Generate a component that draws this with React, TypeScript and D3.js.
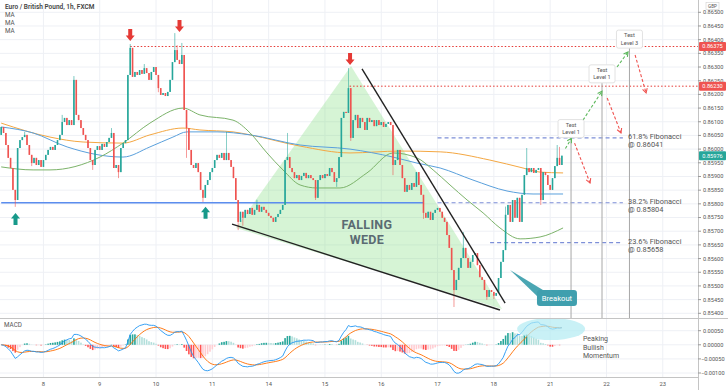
import React from 'react';
import * as d3 from 'd3';

// EUR/GBP 1h closes, in points over 0.85000 (1 pt = 0.00001)
const firstOpen = 1052;
const closes = [
  1081, 1059, 1015, 968, 931, 851, 814, 1004, 1033, 1044,
  1052, 1015, 979, 949, 968, 942, 960, 935, 960, 979,
  997, 1008, 997, 1015, 1033, 1052, 1099, 1114, 1088, 1106,
  1088, 1253, 1125, 1106, 1077, 1052, 1033, 1004, 960, 942,
  997, 1011, 997, 1019, 1008, 1026, 1041, 1059, 931, 942,
  916, 1004, 1022, 1033, 1271, 1370, 1264, 1282, 1271, 1289,
  1275, 1296, 1278, 1253, 1282, 1300, 1271, 1223, 1198, 1205,
  1194, 1209, 1253, 1318, 1362, 1326, 1311, 1344, 1143, 1077,
  997, 942, 931, 949, 916, 851, 822, 869, 887, 916,
  931, 960, 979, 968, 986, 960, 986, 960, 935, 894,
  814, 734, 771, 749, 778, 763, 785, 760, 778, 796,
  771, 789, 778, 767, 756, 749, 734, 752, 763, 778,
  796, 960, 971, 931, 916, 894, 905, 887, 902, 913,
  894, 905, 894, 887, 822, 887, 905, 894, 909, 902,
  931, 916, 880, 894, 971, 1114, 1136, 1132, 1223, 1041,
  1106, 1125, 1077, 1114, 1099, 1070, 1114, 1099, 1106, 1084,
  1106, 1088, 1099, 1081, 1092, 1099, 1088, 942, 960, 997,
  942, 894, 844, 869, 851, 876, 862, 916, 869, 833,
  767, 749, 771, 741, 767, 778, 785, 771, 749, 734,
  686, 639, 558, 485, 522, 566, 602, 639, 602, 566,
  588, 613, 620, 576, 532, 522, 485, 460, 485, 478,
  464, 474, 529, 588, 631, 760, 796, 734, 814, 749,
  822, 734, 833, 905, 931, 916, 931, 913, 924, 931,
  814, 916, 905, 869, 851, 894, 938, 968, 942, 976,
];

// visible wicks: [bar, high, low]
const wicks: [number, number | null, number | null][] = [
  [6, null, 789], [10, 1063, null], [13, null, 938], [26, 1125, null], [31, 1267, null],
  [39, null, 924], [47, 1077, null], [50, null, 894], [55, 1384, null], [61, 1311, null],
  [67, null, 1208], [74, 1424, null], [75, 1380, null], [77, 1388, null], [79, null, 968],
  [86, null, 807], [96, 1063, null], [101, null, 704], [103, null, 720], [109, 815, null],
  [122, 1059, null], [134, null, 814], [143, null, 862], [148, 1296, null], [149, null, 1030],
  [167, null, 905], [180, null, 745], [193, null, 423], [197, 697, null], [207, null, 449],
  [210, null, 452], [215, 790, null], [224, 1004, null], [230, null, 796], [237, 1015, null],
  [238, 1008, null],
];

// moving averages: [bar, points]
const maGreen = [
  [0, 935], [13.6, 924], [20.8, 924], [42.1, 971], [51.9, 1022], [63.4, 1095], [77.5, 1150],
  [84.7, 1125], [98.8, 1106], [106.1, 1059], [113.3, 986], [120.1, 924], [127.4, 869],
  [134.6, 858], [144.4, 858], [155.9, 913], [167, 986], [177.2, 968], [184.1, 924],
  [191.3, 869], [198.6, 814], [205.4, 767], [212.6, 712], [221.2, 672], [229.7, 679], [239.5, 712],
];
const maOrange = [
  [0, 1095], [20.8, 1044], [34.9, 1026], [51.9, 1022], [63.4, 1052], [77.5, 1077], [84.7, 1070],
  [98.8, 1063], [106.1, 1052], [127.4, 1011], [148.7, 986], [170, 993], [187.1, 990],
  [208.3, 960], [222.4, 931], [229.7, 916], [239.5, 913],
];
const maBlue = [
  [0, 1081], [13.6, 1059], [28.1, 1008], [51.9, 971], [63.4, 1008], [73.2, 1044], [79.2, 1063],
  [92, 1063], [106.1, 1052], [127.4, 1015], [148.7, 1000], [167, 971], [177.2, 949],
  [187.1, 931], [201.1, 887], [215.6, 847], [226.7, 836], [239.5, 836],
];

const dayBars = [18, 42, 66, 90, 114, 138, 162, 186, 210, 234, 258, 282];
const dayLabels = ['8', '9', '10', '11', '14', '15', '16', '17', '18', '21', '22', '23'];
const macdTicks = [0.0005, 0, -0.0005, -0.001];

const supportLevel = 0.85804;
const resistanceLevels = [[55, 0.86375], [148.5, 0.8623]];
const fibs = [
  { pct: '61.8%', price: 0.86041, from: 186 },
  { pct: '38.2%', price: 0.85804, from: 186 },
  { pct: '23.6%', price: 0.85658, from: 208.4 },
];
const wedgeLower = [[98.4, 726], [212.6, 412]];
const wedgeUpper = [[153.8, 1293], [214.8, 437]];
const wedgeFill = [[100.1, 712], [149.1, 1304], [213.5, 416]];
const redMarks = [[55, 1395], [76, 1428], [148.7, 1307]];
const greenMarks = [[6.1, 767], [87.1, 789]];
const testBoxes = [
  { bar: 242.9, v: 1075, label: 'Level 1' },
  { bar: 256.1, v: 1275, label: 'Level 1' },
  { bar: 267.8, v: 1402, label: 'Level 3' },
];
const upArrows = [[[240.5, 1002], [243.1, 1040]], [[248, 1106], [256.1, 1212]], [[262.5, 1300], [267.2, 1355]]];
const downArrows = [[[244.4, 1022], [251, 876]], [[258.3, 1187], [264.2, 1059]], [[270.2, 1344], [274.9, 1205]]];

const UP = '#26a69a';
const DOWN = '#ef5350';
const FONT = 'Roboto, "Liberation Sans", sans-serif';

function ema(arr: number[], n: number) {
  const k = 2 / (n + 1);
  const out: number[] = [];
  arr.forEach((v, i) => out.push(i === 0 ? v : v * k + out[i - 1] * (1 - k)));
  return out;
}

export default function App() {
  const x = d3.scaleLinear().domain([0, 282]).range([1.2, 1.2 + 282 * 2.346]);
  const y = d3.scaleLinear().domain([0.854, 0.865]).range([313.3, 12.3]);
  const ym = d3.scaleLinear().domain([-0.001, 0.0005]).range([373, 330.7]);
  const px = (v: number) => 0.85 + v / 1e5;
  const yv = (v: number) => y(px(v));

  const wickMap = new Map(wicks.map(w => [w[0], w]));
  const candles = closes.map((c, i) => {
    const o = i === 0 ? firstOpen : closes[i - 1];
    const w = wickMap.get(i);
    const hi = Math.max(o, c, w && w[1] != null ? w[1] : -Infinity);
    const lo = Math.min(o, c, w && w[2] != null ? w[2] : Infinity);
    return { i, o, c, hi, lo, up: c >= o };
  });

  const prices = closes.map(px);
  const e12 = ema(prices, 12);
  const e26 = ema(prices, 26);
  const macd = e12.map((v, i) => v - e26[i]);
  const signal = ema(macd, 9);
  const hist = macd.map((v, i) => v - signal[i]);

  const maLine = d3.line<number[]>().x(d => x(d[0])).y(d => yv(d[1])).curve(d3.curveMonotoneX);
  const mLine = d3.line<number>().x((d, i) => x(i)).y(d => ym(d));
  const priceTicks = d3.range(0, 23).map(k => 0.854 + k * 0.0005);

  const arrowHead = (x1: number, y1: number, x2: number, y2: number) => {
    const a = Math.atan2(y2 - y1, x2 - x1);
    const l = 5;
    const p1 = [x2 - l * Math.cos(a - 0.5), y2 - l * Math.sin(a - 0.5)];
    const p2 = [x2 - l * Math.cos(a + 0.5), y2 - l * Math.sin(a + 0.5)];
    return `M${p1[0]},${p1[1]}L${x2},${y2}L${p2[0]},${p2[1]}`;
  };
  const blockDown = 'M-2,-12L2,-12L2,-5.5L4.5,-5.5L0,0L-4.5,-5.5L-2,-5.5Z';

  const boxW = 26, boxH = 18;
  const bo = { x: x(236.9), y: yv(456) };

  return (
    <svg width={728} height={390} style={{ position: 'absolute', left: 0, top: 0, background: '#fff' }} fontFamily={FONT}>
      <defs>
        <clipPath id="main"><rect x={0} y={0} width={698} height={318} /></clipPath>
        <clipPath id="sub"><rect x={0} y={319} width={698} height={58} /></clipPath>
      </defs>
      <rect width={728} height={390} fill="#fff" />

      {/* grid */}
      {dayBars.map(b => <line key={'vg' + b} x1={x(b)} x2={x(b)} y1={0} y2={377} stroke="#eef0f5" />)}
      {priceTicks.map(p => <line key={'hg' + p} x1={0} x2={698} y1={y(p)} y2={y(p)} stroke="#eef0f5" />)}
      {macdTicks.map(m => <line key={'mg' + m} x1={0} x2={698} y1={ym(m)} y2={ym(m)} stroke="#eef0f5" />)}

      <g clipPath="url(#main)">
        <polygon points={wedgeFill.map(d => `${x(d[0])},${yv(d[1])}`).join(' ')} fill="rgba(120,220,115,0.3)" />
        <line x1={x(0)} x2={x(180)} y1={y(supportLevel)} y2={y(supportLevel)} stroke="#5b8dee" strokeWidth={1.6} />
        {resistanceLevels.map(([b, p]) => (
          <line key={'r' + p} x1={x(b)} x2={698} y1={y(p)} y2={y(p)} stroke="#e53935" strokeWidth={1} strokeDasharray="1.5,2" />
        ))}
        {fibs.map(f => (
          <line key={f.pct} x1={x(f.from)} x2={x(265)} y1={y(f.price)} y2={y(f.price)} stroke="#7d8fd8" strokeWidth={1.2} strokeDasharray="4,3" />
        ))}
        <path d={maLine(maOrange) || ''} fill="none" stroke="#f4a742" strokeWidth={1} />
        <path d={maLine(maBlue) || ''} fill="none" stroke="#5aa0dc" strokeWidth={1} />
        <path d={maLine(maGreen) || ''} fill="none" stroke="#7cb36a" strokeWidth={1} />
        {candles.map(c => {
          const col = c.up ? UP : DOWN;
          const top = yv(Math.max(c.o, c.c));
          const bot = yv(Math.min(c.o, c.c));
          return (
            <g key={c.i}>
              <line x1={x(c.i)} x2={x(c.i)} y1={yv(c.hi)} y2={yv(c.lo)} stroke={col} strokeWidth={0.8} opacity={0.75} />
              <rect x={x(c.i) - 0.8} y={top} width={1.6} height={Math.max(0.8, bot - top)} fill={col} />
            </g>
          );
        })}
        <line x1={x(wedgeLower[0][0])} y1={yv(wedgeLower[0][1])} x2={x(wedgeLower[1][0])} y2={yv(wedgeLower[1][1])} stroke="#222" strokeWidth={1.4} />
        <line x1={x(wedgeUpper[0][0])} y1={yv(wedgeUpper[0][1])} x2={x(wedgeUpper[1][0])} y2={yv(wedgeUpper[1][1])} stroke="#222" strokeWidth={1.4} />
        {redMarks.map(([b, v]) => <path key={'rm' + b} d={blockDown} transform={`translate(${x(b)},${yv(v)})`} fill="#e53935" />)}
        {greenMarks.map(([b, v]) => <path key={'gm' + b} d={blockDown} transform={`translate(${x(b)},${yv(v)}) scale(1,-1)`} fill="#17998a" />)}
        <text x={x(155.9)} y={yv(708)} textAnchor="middle" fontSize={12.5} fontWeight={700} letterSpacing={0.3} fill="#5b6b72">FALLING</text>
        <text x={x(155.9)} y={yv(655)} textAnchor="middle" fontSize={12.5} fontWeight={700} letterSpacing={0.3} fill="#5b6b72">WEDE</text>

        {/* scenario projections */}
        {testBoxes.map(t => (
          <line key={'tv' + t.bar} x1={x(t.bar)} x2={x(t.bar)} y1={yv(t.v) + boxH / 2} y2={318} stroke="#a8a8a8" strokeWidth={1} />
        ))}
        {upArrows.map(([a, b], k) => {
          const x1 = x(a[0]), y1 = yv(a[1]), x2 = x(b[0]), y2 = yv(b[1]);
          return (
            <g key={'ua' + k} stroke="#5cb85c" strokeWidth={1.1} fill="none">
              <line x1={x1} y1={y1} x2={x2} y2={y2} strokeDasharray="3,2" />
              <path d={arrowHead(x1, y1, x2, y2)} />
            </g>
          );
        })}
        {downArrows.map(([a, b], k) => {
          const x1 = x(a[0]), y1 = yv(a[1]), x2 = x(b[0]), y2 = yv(b[1]);
          return (
            <g key={'da' + k} stroke="#ef5350" strokeWidth={1.1} fill="none">
              <line x1={x1} y1={y1} x2={x2} y2={y2} strokeDasharray="3,2" />
              <path d={arrowHead(x1, y1, x2, y2)} />
            </g>
          );
        })}
        {testBoxes.map(t => (
          <g key={'tb' + t.bar} transform={`translate(${x(t.bar)},${yv(t.v)})`}>
            <rect x={-boxW / 2} y={-boxH / 2} width={boxW} height={boxH} rx={2} fill="#fff" stroke="#e2e2e2" />
            <text y={-2} textAnchor="middle" fontSize={5.6} fill="#555">Test</text>
            <text y={5.5} textAnchor="middle" fontSize={5.6} fill="#555">{t.label}</text>
          </g>
        ))}
        {fibs.map(f => (
          <g key={'fl' + f.pct} fontSize={7.4} fill="#555">
            <text x={628} y={y(f.price) + 1}>{`${f.pct} Fibonacci`}</text>
            <text x={628} y={y(f.price) + 9}>{`@ ${f.price.toFixed(5)}`}</text>
          </g>
        ))}

        {/* breakout callout */}
        <polygon points={`${x(216.9)},${yv(558)} ${bo.x - 14},${bo.y - 8} ${bo.x - 20},${bo.y - 2}`} fill="#4aa6b3" />
        <rect x={bo.x - 20} y={bo.y - 8} width={40} height={16} rx={3} fill="#3f9fae" />
        <text x={bo.x} y={bo.y + 2.7} textAnchor="middle" fontSize={7.6} fill="#fff">Breakout</text>
      </g>

      {/* MACD pane */}
      <g clipPath="url(#sub)">
        {hist.map((h, i) => {
          const prev = i > 0 ? hist[i - 1] : 0;
          const col = h >= 0 ? (h >= prev ? '#26a69a' : '#b2dfdb') : (h < prev ? '#ff5252' : '#ffcdd2');
          const y0 = ym(0), y1 = ym(h);
          return <rect key={'h' + i} x={x(i) - 0.8} y={Math.min(y0, y1)} width={1.6} height={Math.abs(y1 - y0)} fill={col} />;
        })}
        <path d={mLine(signal) || ''} fill="none" stroke="#ff6d00" strokeWidth={0.9} />
        <path d={mLine(macd) || ''} fill="none" stroke="#2196f3" strokeWidth={0.9} />
        <ellipse cx={x(234.4)} cy={ym(0.00056)} rx={34} ry={11} fill="#b2ebf2" opacity={0.7} />
      </g>
      <g fontSize={7} fill="#555">
        <text x={x(248)} y={ym(0.00012)}>Peaking</text>
        <text x={x(248)} y={ym(0.00012) + 8.5}>Bullish</text>
        <text x={x(248)} y={ym(0.00012) + 17}>Momentum</text>
      </g>

      {/* legends */}
      <text x={5} y={9} fontSize={6.5} fontWeight={600} fill="#444">Euro / British Pound, 1h, FXCM</text>
      {[17, 25, 33].map(t => <text key={'ma' + t} x={5} y={t} fontSize={6.3} fill="#555">MA</text>)}
      <text x={4} y={327} fontSize={6.3} fill="#555">MACD</text>

      {/* pane frames */}
      <line x1={0} x2={728} y1={318.5} y2={318.5} stroke="#c4c4c4" />
      <line x1={0} x2={698} y1={377.5} y2={377.5} stroke="#c4c4c4" />
      <line x1={698.5} x2={698.5} y1={0} y2={390} stroke="#c4c4c4" />

      {/* price axis */}
      {priceTicks.map(p => (
        <g key={'pt' + p}>
          <line x1={698} x2={701} y1={y(p)} y2={y(p)} stroke="#999" />
          <text x={703} y={y(p)} dy="0.35em" fontSize={5.6} fill="#555">{p.toFixed(5)}</text>
        </g>
      ))}
      {macdTicks.map(m => (
        <g key={'mt' + m}>
          <line x1={698} x2={701} y1={ym(m)} y2={ym(m)} stroke="#999" />
          <text x={m < 0 ? 701 : 703} y={ym(m)} dy="0.35em" fontSize={5.6} fill="#555">{(m < 0 ? '\u2212' : '') + Math.abs(m).toFixed(5)}</text>
        </g>
      ))}
      {[[0.86375, DOWN], [0.8623, DOWN], [px(closes[closes.length - 1]), UP]].map(([p, col]) => (
        <g key={'pl' + p}>
          <rect x={699} y={y(p as number) - 4.5} width={27} height={9} rx={1} fill={col as string} />
          <text x={712.5} y={y(p as number)} dy="0.35em" textAnchor="middle" fontSize={5.6} fill="#fff">{(p as number).toFixed(5)}</text>
        </g>
      ))}
      <rect x={706} y={2.5} width={13} height={7} fill="#fff" stroke="#d0d0d0" strokeWidth={0.6} />
      <text x={712.5} y={6} dy="0.35em" textAnchor="middle" fontSize={4.6} fill="#555">GBP</text>

      {/* time axis */}
      {dayBars.map((b, k) => (
        <text key={'xl' + b} x={x(b)} y={385.5} textAnchor="middle" fontSize={5.8} fill="#555">{dayLabels[k]}</text>
      ))}
    </svg>
  );
}
